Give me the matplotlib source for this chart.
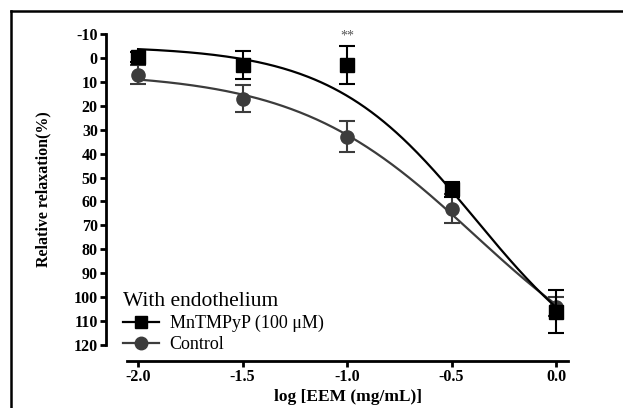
# Relative relaxation vs log[EEM] - dose response with endothelium

import numpy as np
import matplotlib.pyplot as plt
from matplotlib.lines import Line2D

plt.rcParams['font.family'] = ['Liberation Serif', 'DejaVu Serif']
plt.rcParams['axes.unicode_minus'] = False

# --- DATA ---
log_conc = [-2.0, -1.5, -1.0, -0.5, 0.0]

mn_mean = [-0.5, 3, 3, 55, 106]
mn_err = [2, 6, 8, 3, 9]

ctrl_mean = [7, 17, 33, 63, 104]
ctrl_err = [4, 5.5, 6.5, 6, 4]

# fitted logistic parameters (bottom, top, logEC50, hill)
mn_fit = [-5, 140, -0.385, 1.26]
ctrl_fit = [6, 142, -0.39, 1.02]

y_ticks = list(range(-10, 121, 10))
x_ticks = [-2.0, -1.5, -1.0, -0.5, 0.0]


def logistic(x, p):
    bottom, top, ec50, hill = p
    return bottom + (top - bottom) / (1 + 10 ** ((ec50 - x) * hill))


black = '#000000'
grey = '#3c3c3c'

fig = plt.figure(figsize=(6.23, 4.08), dpi=100)
ax = fig.add_axes([127 / 623, 1 - 345 / 408, 441 / 623, 311 / 408])

xs = np.linspace(-2.0, 0.0, 200)

# Control
ax.plot(xs, logistic(xs, ctrl_fit), color=grey, lw=1.6, zorder=2)
ax.errorbar(log_conc, ctrl_mean, yerr=ctrl_err, fmt='o', color=grey, ms=9.5,
            elinewidth=1.5, capsize=5.5, capthick=1.5, zorder=3)

# MnTMPyP
ax.plot(xs, logistic(xs, mn_fit), color=black, lw=1.6, zorder=4)
ax.errorbar(log_conc, mn_mean, yerr=mn_err, fmt='s', color=black, ms=9.5,
            elinewidth=1.5, capsize=5.5, capthick=1.5, zorder=5)

ax.text(-1.0, -6.5, '**', ha='center', va='bottom', fontsize=10, color='#555555')

ax.set_xlim(-2.053, 0.057)
ax.set_ylim(120, -10)
ax.set_yticks(y_ticks)
ax.set_xticks(x_ticks)
ax.set_xticklabels([f'{v:.1f}' for v in x_ticks])

for s in ['top', 'right']:
    ax.spines[s].set_visible(False)
ax.spines['left'].set_position(('outward', 15))
ax.spines['bottom'].set_position(('outward', 11.5))
for s in ['left', 'bottom']:
    ax.spines[s].set_linewidth(2)

ax.tick_params(axis='both', direction='out', width=2, length=4, pad=2)
for lab in ax.get_xticklabels() + ax.get_yticklabels():
    lab.set_fontweight('bold')
    lab.set_fontsize(11.5)

ax.set_xlabel('log [EEM (mg/mL)]', fontsize=12.5, fontweight='bold', labelpad=3)
ax.set_ylabel('Relative relaxation(%)', fontsize=11.5, fontweight='bold', labelpad=16)

handles = [
    Line2D([], [], color=black, marker='s', ms=9, lw=1.6),
    Line2D([], [], color=grey, marker='o', ms=9, lw=1.6),
]
leg = ax.legend(handles, ['MnTMPyP (100 \u03bcM)', 'Control'],
                title='With endothelium', loc='lower left',
                bbox_to_anchor=(-0.03, -0.055), frameon=False,
                fontsize=13, title_fontsize=15.5, handlelength=2.0,
                handletextpad=0.6, labelspacing=0.22, borderpad=0,
                alignment='left')

# partial frame around figure (left and top edges)
fig.add_artist(Line2D([11 / 623, 11 / 623], [0, 1 - 11 / 408], color='black', lw=1.8,
                      transform=fig.transFigure))
fig.add_artist(Line2D([11 / 623, 1], [1 - 11 / 408, 1 - 11 / 408], color='black', lw=1.8,
                      transform=fig.transFigure))

fig.savefig('out.png', dpi=100)
